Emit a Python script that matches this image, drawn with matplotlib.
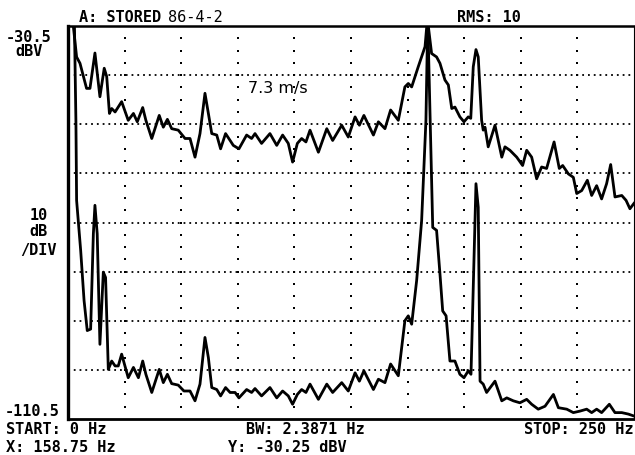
import numpy as np
import matplotlib
matplotlib.use("Agg")
import matplotlib.pyplot as plt

# spectrum traces (Hz, dBV)
upper_hz = [2.0, 3.8, 5.3, 8.2, 9.7, 11.9, 14.1, 16.0, 17.1, 18.3, 19.3, 20.8, 23.7, 26.6, 28.9,
            30.6, 33.0, 34.4, 37.0, 40.3, 42.1, 43.9, 45.8, 48.7, 51.7, 53.9, 56.1, 58.3, 60.5,
            62.0, 63.5, 65.7, 67.4, 69.6, 71.6, 73.0, 75.5, 78.9, 81.1, 82.6, 85.5, 89.2, 92.2,
            94.8, 97.3, 99.2, 101.3, 103.2, 105.1, 106.9, 110.6, 114.3, 116.9, 120.9, 123.8,
            126.8, 128.7, 130.7, 134.9, 137.1, 140.0, 142.5, 145.9, 148.8, 150.3, 151.8, 154.7,
            157.7, 158.75, 160.6, 162.8, 164.3, 166.5, 168.0, 169.5, 170.9, 173.1, 174.9, 176.8,
            177.9, 179.0, 180.2, 181.2, 182.7, 183.4, 184.2, 185.6, 188.6, 191.6, 193.0, 195.2,
            198.2, 200.8, 202.6, 204.8, 207.0, 209.2, 211.4, 214.7, 217.0, 218.5, 221.0, 223.2,
            224.7, 226.9, 229.4, 231.3, 233.5, 235.7, 237.9, 239.7, 241.6, 244.6, 246.5, 248.2,
            250.0]
upper_dbv = [-29.0, -36.8, -38.1, -43.2, -43.2, -36.0, -44.9, -39.1, -40.8, -48.3, -47.3, -48.0,
             -45.9, -49.7, -48.3, -50.0, -47.1, -49.7, -53.4, -48.7, -51.1, -49.5, -51.4, -51.7,
             -53.4, -53.4, -57.2, -52.4, -44.2, -48.3, -52.4, -52.7, -55.5, -52.4, -53.8, -54.8,
             -55.5, -52.7, -53.4, -52.4, -54.4, -52.4, -54.8, -52.7, -54.4, -58.2, -54.4, -53.4,
             -54.1, -51.7, -56.2, -51.4, -53.8, -50.7, -53.1, -49.0, -50.7, -48.7, -52.7, -50.0,
             -51.4, -47.6, -49.7, -42.9, -42.2, -42.9, -38.8, -34.7, -29.0, -36.1, -36.8, -38.1,
             -41.5, -42.5, -47.3, -47.0, -49.0, -50.0, -49.0, -49.3, -38.8, -35.3, -36.8, -49.7,
             -51.7, -51.1, -55.1, -50.7, -57.2, -55.1, -55.8, -57.2, -58.9, -55.8, -57.2, -61.6,
             -59.2, -59.5, -54.1, -59.5, -58.9, -60.6, -61.3, -64.6, -64.0, -61.9, -65.0, -63.0,
             -65.7, -62.6, -58.7, -65.3, -65.0, -66.0, -67.7, -66.6]

lower_hz = [2.8, 3.5, 3.8, 5.6, 7.1, 8.5, 10.0, 11.2, 11.9, 12.9, 14.1, 15.6, 16.6, 17.8, 19.3,
            20.8, 22.2, 23.7, 26.6, 28.9, 31.1, 33.0, 34.4, 37.0, 40.3, 42.1, 43.9, 45.8, 48.7,
            51.2, 53.9, 56.1, 58.3, 60.5, 62.0, 63.5, 65.7, 67.4, 69.6, 71.6, 73.8, 75.5, 78.9,
            81.1, 82.6, 85.5, 89.2, 92.2, 94.8, 97.3, 99.2, 101.3, 103.2, 105.1, 106.9, 110.6,
            114.3, 116.9, 120.9, 123.8, 126.8, 128.7, 130.7, 134.9, 137.1, 140.0, 142.5, 145.9,
            148.8, 150.3, 151.8, 154.0, 156.2, 158.1, 158.9, 161.1, 162.8, 164.3, 165.5, 167.0,
            168.7, 170.9, 173.1, 174.9, 176.8, 178.0, 179.0, 180.2, 181.2, 182.0, 183.4, 184.9,
            188.6, 191.6, 193.8, 196.7, 199.6, 202.6, 204.8, 207.7, 210.7, 214.4, 216.6, 220.3,
            223.2, 226.1, 229.1, 231.3, 233.5, 235.7, 239.1, 241.6, 244.6, 247.5, 250.0]
lower_dbv = [-29.0, -50.0, -66.0, -76.2, -86.4, -92.5, -92.2, -72.8, -67.0, -72.8, -95.3, -80.6,
             -81.7, -100.4, -98.7, -99.7, -99.7, -97.3, -102.1, -100.0, -102.1, -98.7, -101.4,
             -105.1, -100.4, -103.1, -101.4, -103.3, -103.6, -104.8, -104.8, -106.8, -103.4,
             -93.9, -98.0, -104.1, -104.5, -105.8, -104.1, -105.1, -105.1, -106.2, -104.5,
             -105.1, -104.3, -105.8, -104.1, -106.2, -104.8, -105.8, -107.5, -105.5, -104.5,
             -105.1, -103.4, -106.5, -103.4, -105.1, -103.1, -104.8, -101.1, -102.8, -100.7,
             -104.5, -102.4, -103.1, -99.3, -101.7, -90.5, -89.5, -91.2, -82.3, -70.1, -49.7,
             -29.0, -71.5, -72.1, -81.0, -88.5, -89.5, -98.7, -98.7, -101.4, -102.1, -100.7,
             -101.4, -83.7, -62.6, -67.4, -102.8, -103.4, -105.1, -102.8, -106.8, -106.2,
             -106.8, -107.2, -106.5, -107.5, -108.5, -107.9, -105.5, -108.2, -108.5, -109.2,
             -108.9, -108.5, -109.2, -108.5, -109.2, -107.5, -109.2, -109.2, -109.5, -109.9]

f_start, f_stop = 0, 250
ref_dbv, bottom_dbv = -30.5, -110.5

W, H = 635, 455
fig = plt.figure(figsize=(W / 100, H / 100), dpi=100)
ax = fig.add_axes([68 / W, 1 - 419 / H, (634 - 68) / W, (419 - 26) / H])
ax.set_xlim(f_start, f_stop)
ax.set_ylim(bottom_dbv, ref_dbv)
ax.set_xticks([])
ax.set_yticks([])

# graticule: dense dotted horizontals, sparse dotted verticals
for lvl in np.arange(bottom_dbv + 10, ref_dbv, 10):
    ax.axhline(lvl, color="black", lw=1.3, ls=(0, (1, 2.2)), zorder=1)
vx, vy = np.meshgrid(np.arange(25, 250, 25), np.arange(bottom_dbv + 2.5, ref_dbv, 2.5))
ax.scatter(vx.ravel(), vy.ravel(), s=2.5, marker="s", color="black", lw=0, zorder=1)

ax.plot(upper_hz, upper_dbv, color="black", lw=2.0, zorder=3)
ax.plot(lower_hz, lower_dbv, color="black", lw=2.0, zorder=3)

ax.spines["left"].set_linewidth(2.4)
ax.spines["top"].set_linewidth(1.8)
ax.spines["bottom"].set_linewidth(2.0)
ax.spines["right"].set_linewidth(0.8)

ax.text(0.318, 0.84, "7.3 m/s", transform=ax.transAxes, fontsize=11.5,
        family="DejaVu Sans", va="center", ha="left")

mono = dict(family="DejaVu Sans Mono", weight="bold", fontsize=11, va="center", ha="left")


def label(s, x, y, **kw):
    opts = dict(mono)
    opts.update(kw)
    fig.text(x / W, 1 - y / H, s, **opts)


label("A: STORED", 79, 18)
label("86-4-2", 168, 18, weight="normal")
label("RMS: 10", 457, 18)
label("-30.5", 6, 37)
label("dBV", 15, 51)
label("10", 30, 215)
label("dB", 29, 232)
label("/DIV", 20, 250)
label("-110.5", 5, 411)
label("START: 0 Hz", 6, 429)
label("BW: 2.3871 Hz", 246, 429)
label("STOP: 250 Hz", 634, 429, ha="right")
label("X: 158.75 Hz", 6, 447)
label("Y: -30.25 dBV", 228, 447)

fig.savefig("out.png", dpi=100)
